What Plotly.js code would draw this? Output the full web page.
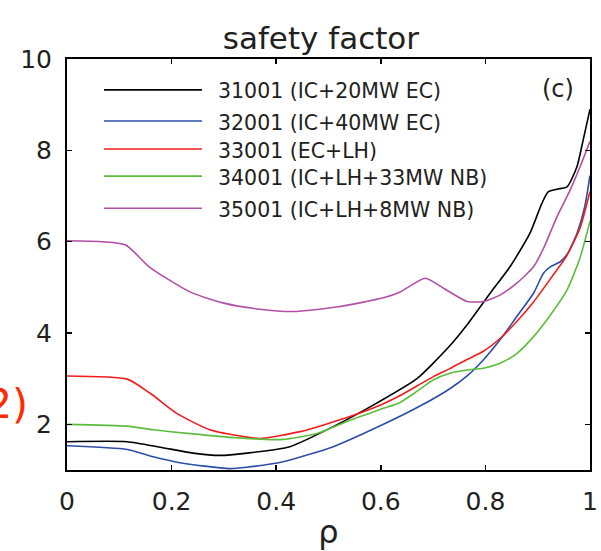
<!DOCTYPE html>
<html>
<head>
<meta charset="utf-8">
<script src="https://cdn.plot.ly/plotly-3.0.1.min.js"></script>
<style>html,body{margin:0;padding:0;background:#fff;}#chart{width:601px;height:551px;}</style>
</head>
<body>
<div id="chart"></div>
<script>
// ---- data ----
const seriesNames = ["31001 (IC+20MW EC)", "32001 (IC+40MW EC)", "33001 (EC+LH)", "34001 (IC+LH+33MW NB)", "35001 (IC+LH+8MW NB)"];
const seriesColors = ["#000000", "#2c4ea8", "#f21c1c", "#5cbd3c", "#b24fa6"];

const rho31001 = [0, 0.115, 0.178, 0.241, 0.293, 0.344, 0.426, 0.509, 0.593, 0.669, 0.732, 0.765, 0.809, 0.847, 0.885, 0.908, 0.920, 0.937, 0.956, 0.975, 0.987, 1.0];
const q31001   = [1.62, 1.62, 1.50, 1.37, 1.32, 1.37, 1.51, 1.95, 2.47, 3.00, 3.72, 4.18, 4.87, 5.45, 6.18, 6.84, 7.09, 7.15, 7.20, 7.64, 8.23, 8.90];

const rho32001 = [0, 0.115, 0.165, 0.216, 0.31, 0.344, 0.413, 0.509, 0.605, 0.675, 0.732, 0.765, 0.796, 0.828, 0.860, 0.892, 0.911, 0.924, 0.943, 0.956, 0.975, 0.990, 1.0];
const q32001   = [1.53, 1.45, 1.29, 1.16, 1.03, 1.06, 1.18, 1.51, 2.00, 2.40, 2.78, 3.06, 3.41, 3.85, 4.36, 4.87, 5.31, 5.45, 5.56, 5.72, 6.18, 6.77, 7.45];

const rho33001 = [0, 0.115, 0.159, 0.21, 0.273, 0.344, 0.369, 0.446, 0.541, 0.605, 0.637, 0.669, 0.700, 0.732, 0.765, 0.796, 0.828, 0.860, 0.892, 0.924, 0.956, 0.981, 1.0];
const q33001   = [3.06, 2.99, 2.68, 2.24, 1.88, 1.72, 1.69, 1.84, 2.17, 2.45, 2.63, 2.84, 3.04, 3.22, 3.42, 3.60, 3.88, 4.25, 4.68, 5.18, 5.70, 6.30, 7.10];

const rho34001 = [0, 0.115, 0.165, 0.241, 0.306, 0.38, 0.413, 0.478, 0.541, 0.605, 0.637, 0.669, 0.700, 0.732, 0.765, 0.796, 0.828, 0.860, 0.892, 0.924, 0.956, 0.981, 1.0];
const q34001   = [2.00, 1.96, 1.88, 1.79, 1.72, 1.67, 1.67, 1.80, 2.09, 2.35, 2.48, 2.72, 2.97, 3.12, 3.19, 3.23, 3.34, 3.55, 3.92, 4.39, 4.94, 5.65, 6.45];

const rho35001 = [0, 0.111, 0.157, 0.235, 0.298, 0.369, 0.432, 0.516, 0.605, 0.637, 0.685, 0.72, 0.765, 0.796, 0.828, 0.860, 0.892, 0.911, 0.937, 0.962, 0.981, 1.0];
const q35001   = [6.02, 5.93, 5.45, 4.90, 4.66, 4.52, 4.47, 4.57, 4.77, 4.90, 5.20, 4.98, 4.69, 4.69, 4.83, 5.09, 5.45, 5.85, 6.55, 7.13, 7.64, 8.20];

const xTickVals = [0, 0.2, 0.4, 0.6, 0.8, 1];
const xTickText = ["0", "0.2", "0.4", "0.6", "0.8", "1"];
const yTickVals = [2, 4, 6, 8, 10];
const yTickText = ["2", "4", "6", "8", "10"];

const chartTitle = "safety factor";
const xTitle = "ρ";
const panelLabel = "(c)";
const sideLabel = "2)";

// ---- build ----
const rhoAll = [rho31001, rho32001, rho33001, rho34001, rho35001];
const qAll = [q31001, q32001, q33001, q34001, q35001];

const traces = rhoAll.map((r, i) => ({
  x: r, y: qAll[i], type: "scatter", mode: "lines", name: seriesNames[i],
  line: {color: seriesColors[i], width: 1.6, shape: "spline", smoothing: 0.6},
  showlegend: false, hoverinfo: "skip"
}));

// manual legend (long sample lines, as in the reference)
const legendY = [0.925, 0.849, 0.781, 0.715, 0.637];
const shapes = [];
const annotations = [];
seriesNames.forEach((n, i) => {
  shapes.push({type: "line", xref: "paper", yref: "paper", x0: 0.0707, x1: 0.258,
    y0: legendY[i], y1: legendY[i], line: {color: seriesColors[i], width: 1.6}});
  annotations.push({xref: "paper", yref: "paper", x: 0.284, y: legendY[i] - 0.004, xanchor: "left", yanchor: "middle",
    text: n, showarrow: false, font: {family: "DejaVu Sans", size: 20.5, color: "#231f20"}});
});
annotations.push({xref: "paper", yref: "paper", x: 0.939, y: 0.927, xanchor: "center", yanchor: "middle",
  text: panelLabel, showarrow: false, font: {family: "DejaVu Sans", size: 24, color: "#231f20"}});
annotations.push({xref: "paper", yref: "paper", x: -0.07, y: 0.16, xanchor: "right", yanchor: "middle",
  text: sideLabel, showarrow: false, font: {family: "DejaVu Sans", size: 41, color: "#ff2a00"}});

const axisCommon = {
  showline: true, linecolor: "#000", linewidth: 2, mirror: "ticks",
  ticks: "inside", ticklen: 5, tickwidth: 1.5, tickcolor: "#000",
  showgrid: false, zeroline: false,
  tickfont: {family: "DejaVu Sans", size: 25, color: "#231f20"}
};

const layout = {
  width: 601, height: 551,
  margin: {l: 67, r: 11, t: 59, b: 81},
  paper_bgcolor: "#fff", plot_bgcolor: "#fff",
  title: {text: chartTitle, font: {family: "DejaVu Sans", size: 31, color: "#231f20"},
    xref: "container", x: 0.534, xanchor: "center", yref: "container", y: 0.93, yanchor: "middle"},
  xaxis: Object.assign({}, axisCommon, {range: [0, 1], tickvals: xTickVals, ticktext: xTickText,
    ticklabelstandoff: 8,
    title: {text: xTitle, font: {family: "DejaVu Sans", size: 32, color: "#231f20"}, standoff: 6}}),
  yaxis: Object.assign({}, axisCommon, {range: [1, 10], tickvals: yTickVals, ticktext: yTickText,
    ticklabelstandoff: 8}),
  shapes: shapes,
  annotations: annotations,
  showlegend: false
};

Plotly.newPlot("chart", traces, layout, {displayModeBar: false, staticPlot: true});
</script>
</body>
</html>
